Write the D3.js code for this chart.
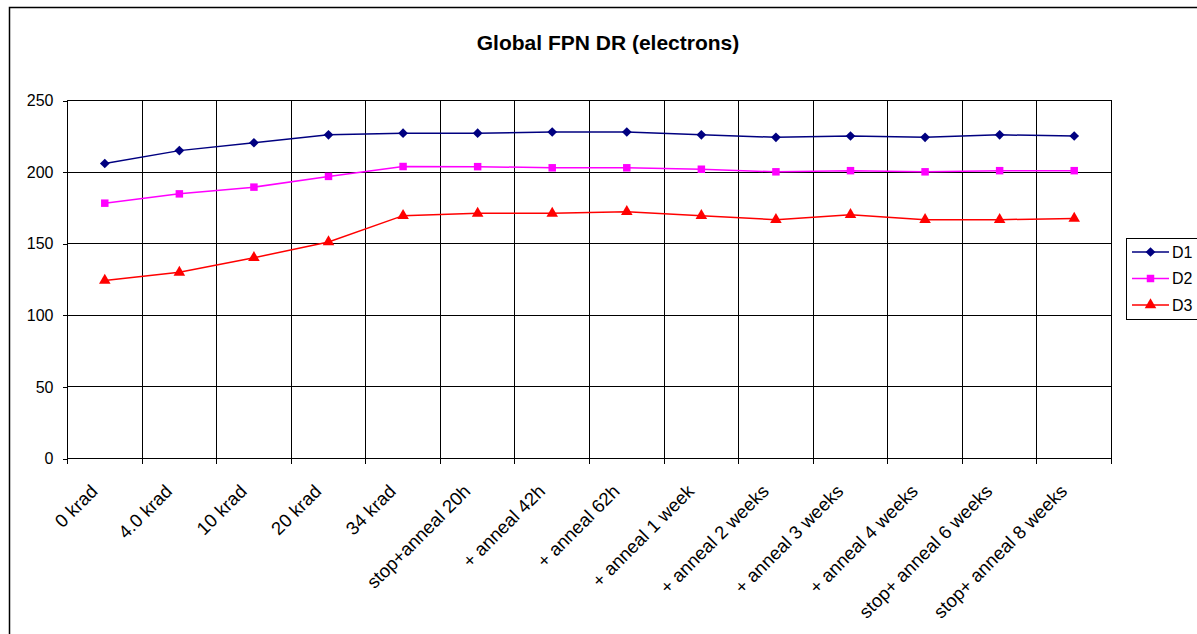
<!DOCTYPE html>
<html>
<head>
<meta charset="utf-8">
<script src="https://d3js.org/d3.v7.min.js"></script>
<style>
  body { margin: 0; background: #fff; }
  svg { font-family: "Liberation Sans", Arial, sans-serif; }
</style>
</head>
<body>
<div id="chart"></div>
<script>
let categories = ["0 krad", "4.0 krad", "10 krad", "20 krad", "34 krad", "stop+anneal 20h",
    "+ anneal 42h", "+ anneal 62h", "+ anneal 1 week", "+ anneal 2 weeks", "+ anneal 3 weeks",
    "+ anneal 4 weeks", "stop+ anneal 6 weeks", "stop+ anneal 8 weeks"];
let d1 = [206, 215, 220.5, 226, 227.2, 227.2, 228, 228, 226, 224.3, 225.2, 224.3, 226, 225.2];
let d2 = [178.3, 184.8, 189.5, 197, 203.9, 203.8, 203, 203, 202, 200.2, 201, 200.2, 201, 201];
let d3v = [124.3, 130, 140.2, 151.2, 169.6, 171.2, 171.2, 172.3, 169.6, 166.8, 170.2, 166.8, 166.8, 167.6];
let yTicks = [0, 50, 100, 150, 200, 250];

let series = [
    { name: "D1", values: d1, color: "#000080", marker: "diamond" },
    { name: "D2", values: d2, color: "#ff00ff", marker: "square" },
    { name: "D3", values: d3v, color: "#ff0000", marker: "triangle" }
];

let width = 1197, height = 634;
let plot = { left: 67.5, top: 100.5, right: 1111.5, bottom: 458.5 };

let svg = d3.select("#chart").append("svg")
    .attr("width", width)
    .attr("height", height);

// outer chart frame (runs off the right and bottom edges)
svg.append("rect")
    .attr("x", 9.5).attr("y", 7.5)
    .attr("width", 1300).attr("height", 700)
    .attr("fill", "none").attr("stroke", "#000").attr("stroke-width", 1.5);

svg.append("text")
    .attr("x", 608).attr("y", 50)
    .attr("text-anchor", "middle")
    .attr("font-size", 21).attr("font-weight", "bold")
    .text("Global FPN DR (electrons)");

let x = d3.scaleBand().domain(categories).range([plot.left, plot.right]);
let y = d3.scaleLinear().domain([0, 250]).range([plot.bottom, plot.top]);

let grid = svg.append("g").attr("shape-rendering", "crispEdges");

// horizontal gridlines
grid.selectAll("line.h").data(yTicks).enter().append("line")
    .attr("x1", plot.left).attr("x2", plot.right)
    .attr("y1", d => y(d)).attr("y2", d => y(d))
    .attr("stroke", "#000");

// vertical gridlines at category boundaries
let bounds = categories.map(c => x(c)).concat([plot.right]);
grid.selectAll("line.v").data(bounds).enter().append("line")
    .attr("x1", d => d).attr("x2", d => d)
    .attr("y1", plot.top).attr("y2", plot.bottom + 5)
    .attr("stroke", "#000");

// plot border
grid.append("rect")
    .attr("x", plot.left).attr("y", plot.top)
    .attr("width", plot.right - plot.left).attr("height", plot.bottom - plot.top)
    .attr("fill", "none").attr("stroke", "#000");

// y axis
let yAxis = svg.append("g")
    .attr("transform", `translate(${plot.left},0)`)
    .call(d3.axisLeft(y).tickValues(yTicks).tickSize(5).tickPadding(9).tickFormat(d3.format("d")));
yAxis.select(".domain").remove();
yAxis.selectAll("line").attr("stroke", "#000").attr("shape-rendering", "crispEdges");
yAxis.selectAll("text").attr("font-size", 16).attr("fill", "#000")
    .attr("font-family", "Liberation Sans, Arial, sans-serif");

// x labels, rotated
svg.append("g").selectAll("text").data(categories).enter().append("text")
    .attr("transform", d => `translate(${x(d) + x.bandwidth() / 2 - 6},${plot.bottom + 34}) rotate(-45)`)
    .attr("text-anchor", "end")
    .attr("font-size", 18.5)
    .text(d => d);

let line = d3.line()
    .x((d, i) => x(categories[i]) + x.bandwidth() / 2)
    .y(d => y(d));

let symbols = {
    diamond: d3.symbol().type(d3.symbolDiamond2).size(60),
    square: d3.symbol().type(d3.symbolSquare).size(56),
    triangle: d3.symbol().type(d3.symbolTriangle).size(58)
};

series.forEach(s => {
    let g = svg.append("g");
    g.append("path")
        .attr("d", line(s.values))
        .attr("fill", "none")
        .attr("stroke", s.color)
        .attr("stroke-width", 1.5);
    g.selectAll("path.m").data(s.values).enter().append("path")
        .attr("d", symbols[s.marker]())
        .attr("transform", (d, i) => `translate(${x(categories[i]) + x.bandwidth() / 2},${y(d)})`)
        .attr("fill", s.color);
});

// legend
let legend = svg.append("g");
legend.append("rect")
    .attr("x", 1126.5).attr("y", 238.5)
    .attr("width", 75).attr("height", 81)
    .attr("fill", "#fff").attr("stroke", "#000");
series.forEach((s, i) => {
    let ly = 252 + i * 26.5;
    legend.append("line")
        .attr("x1", 1132).attr("x2", 1169)
        .attr("y1", ly).attr("y2", ly)
        .attr("stroke", s.color).attr("stroke-width", 1.5);
    legend.append("path")
        .attr("d", symbols[s.marker]())
        .attr("transform", `translate(1150.5,${ly})`)
        .attr("fill", s.color);
    legend.append("text")
        .attr("x", 1172).attr("y", ly)
        .attr("dy", "0.35em")
        .attr("font-size", 16)
        .text(s.name);
});
</script>
</body>
</html>
